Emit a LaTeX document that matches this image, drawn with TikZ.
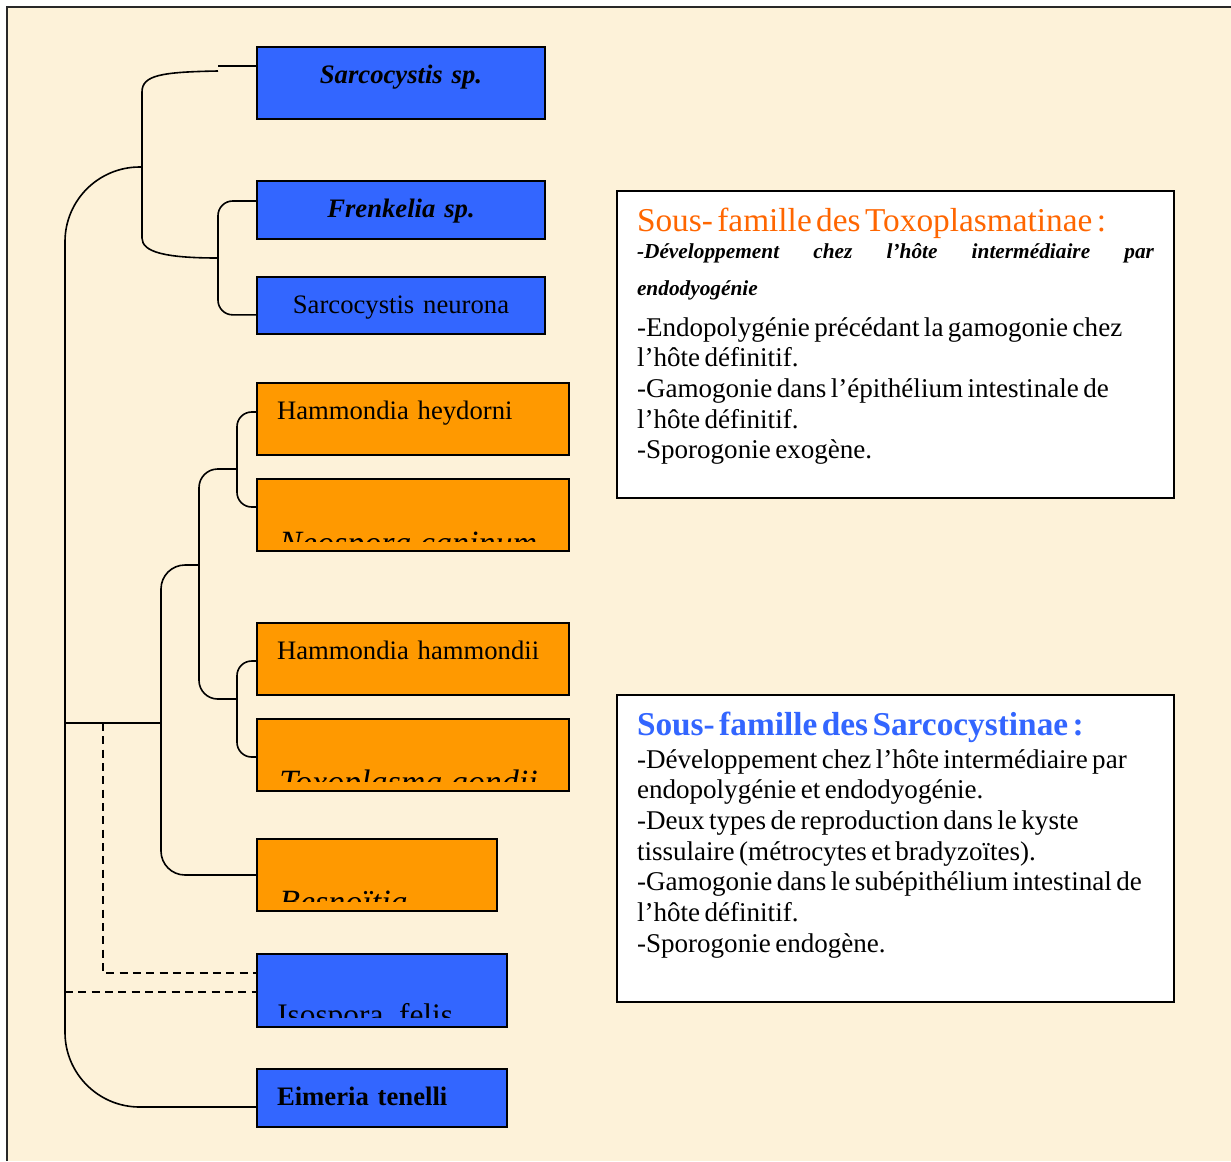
\documentclass[tikz,border=0pt]{standalone}
\usepackage{fontspec}
\setmainfont{Liberation Serif}
\usepackage{tikz}
\usetikzlibrary{positioning,calc}
\definecolor{parch}{RGB}{253,242,217}
\definecolor{boxblue}{RGB}{51,102,255}
\definecolor{boxorange}{RGB}{255,153,0}
\definecolor{toxoorange}{RGB}{255,102,0}
\definecolor{framegray}{RGB}{40,40,40}
\tikzstyle{taxon} = [rectangle, anchor=north west, draw=black, line width=1.5pt, outer sep=0pt, inner xsep=15pt, inner ysep=0pt, text height=27pt, font=\fontsize{20pt}{24pt}\selectfont]
\tikzstyle{bluebox} = [taxon, fill=boxblue]
\tikzstyle{orangebox} = [taxon, fill=boxorange, text width=204pt, align=left, text depth=27pt]
\tikzstyle{infobox} = [rectangle, anchor=north west, draw=black, line width=1.5pt, outer sep=0pt, fill=white, text width=387.75pt, inner xsep=15pt, inner ysep=13.5pt, text height=16.5pt, text depth=186.75pt, align=left]
\tikzstyle{cutlabel} = [anchor=base west, inner sep=0pt, font=\fontsize{25.5pt}{30pt}\selectfont]
\tikzstyle{branch} = [line width=1.2pt, black]
\tikzstyle{dashbranch} = [branch, dash pattern=on 6pt off 4pt]

\begin{document}
\begin{tikzpicture}[x=0.75pt, y=-0.75pt, node distance=1cm]

% fond
\useasboundingbox (0,0) rectangle (1231,1161);
\fill[white] (0,0) rectangle (1231,1161);
\fill[parch] (7,7) rectangle (1231,1161);
\draw[framegray, line width=1.5pt] (7,1161) -- (7,7) -- (1231,7);

% Sarcocystinae
\node (sarco) [bluebox, text width=186pt, align=center, text depth=27pt] at (257,47) {\bfseries\itshape Sarcocystis sp.};
\node (fren) [bluebox, text width=186pt, align=center, text depth=16.5pt, below=46.5pt of sarco.south west, anchor=north west] {\bfseries\itshape Frenkelia sp.};
\node (neur) [bluebox, text width=186pt, align=center, text depth=15.75pt, below=28.5pt of fren.south west, anchor=north west] {Sarcocystis neurona};

% Toxoplasmatinae
\node (hhey) [orangebox, below=36.75pt of neur.south west, anchor=north west] {Hammondia heydorni};
\node (neo) [orangebox, below=18pt of hhey.south west, anchor=north west] {};
\node (hham) [orangebox, below=54pt of neo.south west, anchor=north west] {Hammondia hammondii};
\node (toxg) [orangebox, below=18pt of hham.south west, anchor=north west] {};
\node (besn) [taxon, fill=boxorange, text width=150pt, text depth=27pt, below=36pt of toxg.south west, anchor=north west] {};

% autres
\node (iso) [bluebox, text width=157.5pt, text depth=27.75pt, below=32.25pt of besn.south west, anchor=north west] {};
\node (eim) [bluebox, text width=157.5pt, align=left, text depth=16.5pt, below=31.5pt of iso.south west, anchor=north west] {\bfseries Eimeria tenelli};

% textes coupes
\begin{scope}
\clip (neo.north west) rectangle ([yshift=7.5pt]neo.south east);
\node (neotxt) [cutlabel] at ([shift={(22,75)}]neo.north west) {\itshape Neospora caninum};
\end{scope}
\begin{scope}
\clip (toxg.north west) rectangle ([yshift=7.5pt]toxg.south east);
\node (toxgtxt) [cutlabel] at ([shift={(22,74)}]toxg.north west) {\itshape Toxoplasma gondii};
\end{scope}
\begin{scope}
\clip (besn.north west) rectangle ([yshift=7.5pt]besn.south east);
\node (besntxt) [cutlabel] at ([shift={(22,74)}]besn.north west) {\itshape Besnoïtia};
\end{scope}
\begin{scope}
\clip (iso.north west) rectangle ([yshift=7.5pt]iso.south east);
\node (isotxt) [cutlabel, font=\fontsize{23.5pt}{28pt}\selectfont] at ([shift={(20,71)}]iso.north west) {Isospora\ \ felis};
\end{scope}

% cadres de texte
\node (toxo) [infobox] at (617,191) {%
{\fontsize{25pt}{28pt}\selectfont\color{toxoorange}Sous- famille des Toxoplasmatinae :\par}
{\fontsize{16pt}{20.25pt}\selectfont\bfseries\itshape\noindent\hbox to\linewidth{-Développement\hfill chez\hfill l’hôte\hfill intermédiaire\hfill par}\par}
{\fontsize{16pt}{27.75pt}\selectfont\bfseries\itshape endodyogénie\par}
{\fontsize{20.3pt}{30.75pt}\selectfont -Endopolygénie précédant la gamogonie chez\par}
{\fontsize{20.3pt}{23pt}\selectfont l’hôte définitif.\\-Gamogonie dans l’épithélium intestinale de\\l’hôte définitif.\\-Sporogonie exogène.\par}};
\node (sarcy) [infobox, below=147.75pt of toxo.south west, anchor=north west] {%
{\fontsize{25pt}{28pt}\selectfont\bfseries\color{boxblue}Sous- famille des Sarcocystinae :\par}
{\fontsize{20.3pt}{24.75pt}\selectfont -Développement chez l’hôte intermédiaire par\par}
{\fontsize{20.3pt}{23pt}\selectfont endopolygénie et endodyogénie.\\-Deux types de reproduction dans le kyste\\tissulaire (métrocytes et bradyzoïtes).\\-Gamogonie dans le subépithélium intestinal de\\l’hôte définitif.\\-Sporogonie endogène.\par}};

% points de branchement
\coordinate (sarcotip) at (218,66);
\coordinate (sarcoend) at (218,71);
\coordinate (j1) at (142,167);
\coordinate (jf) at (218,258);
\coordinate (root) at (65,723);
\coordinate (jr) at (161,723);
\coordinate (jd) at (103,723);
\coordinate (jt) at (199,565);
\coordinate (jh1) at (237,469);
\coordinate (jh2) at (237,699);

% branches Sarcocystinae
\draw [branch] (sarcotip) -- (sarcotip -| sarco.west);
\draw [branch] (sarcoend) .. controls (162,72) and (142,75) .. (142,92) -- (142,238) .. controls (142,252) and (165,258) .. (jf);
\draw [branch, rounded corners=11pt] ([yshift=6.75pt]fren.west) -| (jf) |- ([yshift=-7pt]neur.west);

% racine
\draw [branch, rounded corners=56pt] (j1) -| (root) |- ([yshift=-6.75pt]eim.west);
\draw [branch] (root) -- (jr);

% branches Toxoplasmatinae
\draw [branch, rounded corners=18pt] (jt) -| (jr) |- (besn.west);
\draw [branch, rounded corners=14pt] (jh1) -| (jt) |- (jh2);
\draw [branch, rounded corners=11pt] ([yshift=5.25pt]hhey.west) -| (jh1) |- ([yshift=6pt]neo.west);
\draw [branch, rounded corners=11pt] ([yshift=-1.5pt]hham.west) -| (jh2) |- ([yshift=-1.5pt]toxg.west);

% Isospora
\draw [dashbranch] (jd) |- ([yshift=13pt]iso.west);
\draw [dashbranch] ([yshift=-1pt]iso.west -| root) -- ([yshift=-1pt]iso.west);

\end{tikzpicture}
\end{document}
